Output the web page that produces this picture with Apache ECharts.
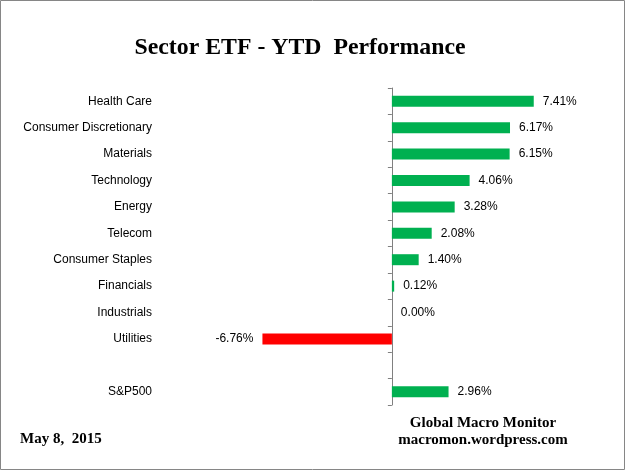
<!DOCTYPE html>
<html><head><meta charset="utf-8">
<script src="https://cdn.jsdelivr.net/npm/echarts@6/dist/echarts.min.js"></script>
<style>html,body{margin:0;padding:0;background:#fff}#c{width:625px;height:470px}</style>
</head><body><div id="c"></div>
<script>
const categories = ['Health Care','Consumer Discretionary','Materials','Technology','Energy','Telecom','Consumer Staples','Financials','Industrials','Utilities',' ','S&P500'];
const values = [7.41, 6.17, 6.15, 4.06, 3.28, 2.08, 1.40, 0.12, 0.00, -6.76, null, 2.96];
const titleText = 'Sector ETF - YTD  Performance';
const dateText = 'May 8,  2015';
const sourceLines = ['Global Macro Monitor', 'macromon.wordpress.com'];

const labelFont = {fontFamily: 'Liberation Sans', fontSize: 12, color: '#000'};
const chart = echarts.init(document.getElementById('c'));
chart.setOption({
  animation: false,
  title: {text: titleText, left: 295, top: 31, textAlign: 'center',
    textStyle: {fontFamily: 'Liberation Serif', fontWeight: 'bold', fontSize: 23.8, color: '#000'}},
  graphic: [
    {type: 'rect', shape: {x: 0.5, y: 0.5, width: 624, height: 469}, style: {fill: 'none', stroke: '#868686', lineWidth: 1}, silent: true},
    {type: 'text', x: 20, y: 432, style: {text: dateText, font: 'bold 15px "Liberation Serif"', fill: '#000'}},
    {type: 'text', x: 483, y: 415, style: {text: sourceLines.join('\n'), font: 'bold 15px "Liberation Serif"', fill: '#000', textAlign: 'center', lineHeight: 17}}
  ],
  grid: {left: 160, right: 25, top: 88, bottom: 65},
  xAxis: {type: 'value', min: -12.11, max: 10.87, show: false},
  yAxis: [
    {type: 'category', data: categories, inverse: true,
      axisLine: {show: false, onZero: false}, axisTick: {show: false}, splitLine: {show: false},
      axisLabel: Object.assign({margin: 8}, labelFont)},
    {type: 'category', data: categories, inverse: true, position: 'left',
      axisLine: {show: true, onZero: true, onZeroAxisIndex: 0, lineStyle: {color: '#808080', width: 1}},
      axisTick: {show: true, length: 4, lineStyle: {color: '#808080'}},
      axisLabel: {show: false}, splitLine: {show: false}}
  ],
  series: [{
    type: 'bar', yAxisIndex: 0, barWidth: 11,
    data: values.map(v => v === null ? null : {
      value: v,
      itemStyle: {color: v < 0 ? '#FF0000' : '#00B050'},
      label: {position: v < 0 ? 'left' : 'right'}
    }),
    label: Object.assign({show: true, distance: 9, formatter: p => p.value.toFixed(2) + '%'}, labelFont)
  }]
});
</script></body></html>
